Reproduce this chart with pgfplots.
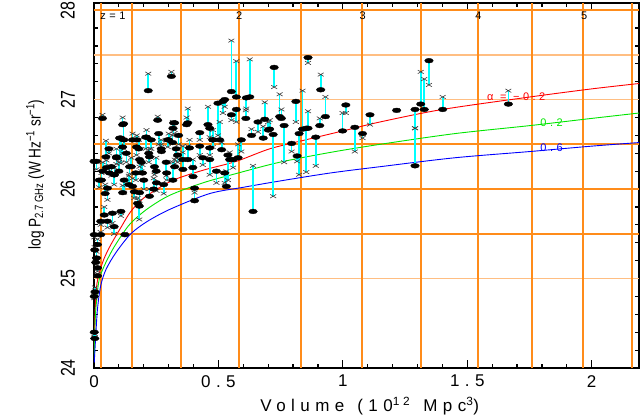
\documentclass[border=0pt]{standalone}
\usepackage{fontspec}
\setmainfont{Liberation Sans}
\newfontfamily\wide{Liberation Sans}[LetterSpace=32]
\usepackage{pgfplots}
\usepackage{pgfplotstable}
\pgfplotsset{compat=1.18}
\usepackage{graphicx}
\definecolor{gorange}{RGB}{255,140,26}
\definecolor{gpeach}{RGB}{255,190,130}
\definecolor{crossgray}{RGB}{60,60,60}
\definecolor{cyn}{RGB}{0,255,255}
\definecolor{gr}{RGB}{0,230,0}

\pgfplotstableread{
x yd yc
1.346 27.435 27.164
1.313 26.95 27.31
1.327 26.89 27.23
1.401 26.89 27.03
1.290 26.89 26.68
1.290 26.26 26.68
1.216 26.88 26.88
1.665 26.95 27.10
0.860 27.47 27.41
0.724 27.36 27.14
0.911 27.11 27.28
0.930 26.81 27.03
0.746 26.81 27.06
0.838 26.67 27.10
0.811 26.98 26.75
0.860 26.68 26.87
1.012 26.94 26.85
0.999 26.65 26.85
1.109 26.83 26.72
1.048 26.69 26.42
1.079 26.62 26.57
0.891 26.58 26.26
0.720 26.61 25.92
0.764 26.71 26.30
0.824 26.62 26.16
0.853 26.68 26.19
0.816 26.37 26.31
0.794 26.51 26.42
0.907 26.71 26.79
0.753 26.79 26.89
0.706 26.67 26.77
0.552 27.09 27.66
0.572 27.03 27.43
0.626 27.03 27.45
0.311 27.26 27.31
0.518 26.98 26.85
0.498 26.96 26.60
0.572 26.89 26.75
0.612 27.02 26.90
0.377 26.74 26.90
0.458 26.72 26.92
0.686 26.78 26.97
0.610 26.79 26.88
0.659 26.75 26.64
0.505 26.55 26.75
0.317 26.68 26.75
0.425 26.63 26.55
0.478 26.55 26.66
0.552 26.83 26.77
0.633 26.60 26.67
0.680 26.57 26.70
0.700 26.66 26.75
0.538 26.38 26.10
0.559 26.33 26.24
0.579 26.35 26.50
0.592 26.55 26.42
0.639 25.75 26.26
0.465 26.33 26.16
0.525 26.18 26.07
0.532 26.03 26.20
0.404 26.01 25.88
0.398 26.14 26.25
0.492 26.20 26.07
0.317 26.10 26.30
0.377 26.33 26.48
0.425 26.48 26.38
0.357 26.22 26.48
0.218 27.10 27.29
0.034 26.79 26.83
0.256 26.77 26.81
0.119 26.73 26.55
0.048 26.36 26.54
0.000 26.31 26.31
0.108 26.57 26.29
0.172 26.55 26.60
0.208 26.58 26.45
0.320 26.74 26.62
0.404 25.87 25.96
0.001 24.40 24.34
0.003 24.33 24.38
0.001 24.80 24.78
0.004 24.85 24.90
0.014 25.03 25.05
0.007 25.18 25.22
0.003 25.32 25.35
0.014 25.38 25.44
0.001 25.49 25.46
0.027 25.49 25.52
0.124 25.49 25.50
0.054 25.64 25.57
0.081 25.58 25.50
0.074 25.73 25.62
0.108 25.75 25.70
0.175 25.84 25.90
0.182 25.81 25.66
0.162 25.97 25.90
0.054 26.01 25.88
0.021 26.10 26.02
0.081 26.16 26.05
0.168 26.18 26.10
0.121 26.10 25.96
0.041 25.71 25.80
0.027 25.64 25.60
0.010 25.23 25.30
0.014 25.12 25.08
0.060 26.45 26.40
0.090 26.35 26.45
0.130 26.40 26.30
0.150 26.25 26.35
0.190 26.30 26.20
0.220 26.40 26.30
0.250 26.20 26.35
0.270 26.45 26.55
0.290 26.30 26.15
0.330 26.45 26.35
0.100 26.20 26.30
0.140 26.05 26.15
0.200 26.10 26.00
0.240 26.00 26.12
0.280 26.05 25.95
0.070 26.25 26.15
0.035 26.20 26.30
0.045 25.95 26.05
0.230 26.55 26.45
0.260 26.62 26.50
0.120 26.55 26.45
0.180 26.45 26.55
0.300 26.55 26.62
0.340 26.60 26.50
0.115 26.72 26.80
0.103 26.57 26.33
0.155 26.55 26.62
0.211 26.58 26.66
0.324 26.74 26.66
0.372 26.72 26.80
0.465 26.68 26.58
0.525 27.00 26.92
0.050 26.24 26.32
0.010 26.31 26.22
0.082 26.16 26.24
0.115 26.47 26.40
0.171 26.47 26.38
0.223 26.36 26.45
0.243 26.25 26.16
0.271 26.42 26.50
0.296 26.55 26.47
0.316 26.52 26.60
0.336 26.38 26.30
0.356 26.33 26.41
0.384 26.46 26.55
0.397 26.24 26.33
0.437 26.35 26.27
0.465 26.46 26.38
0.477 26.55 26.47
0.513 26.44 26.52
0.545 26.33 26.41
0.183 26.33 26.25
0.195 26.18 26.27
0.143 26.25 26.17
0.090 26.36 26.28
0.062 26.18 26.26
0.030 26.10 26.18
0.155 26.03 26.12
0.251 26.07 25.98
0.292 26.18 26.10
0.324 26.25 26.33
0.223 25.92 26.00
0.183 25.96 25.87
0.115 25.96 26.04
}\pts

\begin{document}
\begin{tikzpicture}
\begin{axis}[
  scale only axis, width=545bp, height=365bp,
  xmin=0, xmax=2.19, ymin=24, ymax=28.08,
  clip=false,
  axis line style={line width=1.5bp},
  tick style={black, line width=1.2bp},
  tick align=inside,
  major tick length=8bp, minor tick length=4bp,
  xtick={0,0.5,1,1.5,2}, ytick={24,25,26,27,28},
  minor x tick num=4, minor y tick num=4,
  /pgf/number format/assume math mode=true,
  xticklabel style={font=\wide\fontsize{17bp}{20bp}\selectfont, inner sep=0pt, anchor=north, yshift=-7bp},
  yticklabel={\scalebox{0.8}[1]{\pgfmathprintnumber{\tick}}},
  yticklabel style={font=\fontsize{20bp}{22bp}\selectfont, rotate=90, anchor=south, inner sep=0pt},
  yticklabel shift=19bp,
  every axis x label/.style={at={(axis description cs:0.506,0)}, anchor=north, yshift=-29bp, inner sep=0pt, font=\wide\fontsize{17bp}{20bp}\selectfont},
  every axis y label/.style={at={(axis description cs:-0.108,0.53)}, rotate=90, anchor=center, inner sep=0pt, font=\fontsize{17bp}{20bp}\selectfont},
  xlabel={Volume \,(10\textsuperscript{12} \,Mpc\textsuperscript{3})},
  ylabel={\scalebox{0.8}[1]{log P\textsubscript{2.7 GHz} (W Hz\textsuperscript{−1} sr\textsuperscript{−1})}},
]
% horizontal grid lines
\draw[gorange, line width=1.7bp] (axis cs:0,25.5) -- (axis cs:2.19,25.5);
\draw[gorange, line width=1.7bp] (axis cs:0,26) -- (axis cs:2.19,26);
\draw[gorange, line width=1.7bp] (axis cs:0,26.5) -- (axis cs:2.19,26.5);
\draw[gorange, line width=1.7bp] (axis cs:0,28) -- (axis cs:2.19,28);
\draw[gpeach, line width=1.7bp] (axis cs:0,25) -- (axis cs:2.19,25);
\draw[gpeach, line width=1.7bp] (axis cs:0,27) -- (axis cs:2.19,27);
\draw[gpeach, line width=1.7bp] (axis cs:0,27.5) -- (axis cs:2.19,27.5);
% vertical grid lines (redshift markers)
\draw[gorange, line width=2bp] (axis cs:0.03,24) -- (axis cs:0.03,28.08);
\draw[gorange, line width=2bp] (axis cs:0.151,24) -- (axis cs:0.151,28.08);
\draw[gorange, line width=2bp] (axis cs:0.348,24) -- (axis cs:0.348,28.08);
\draw[gorange, line width=2bp] (axis cs:0.581,24) -- (axis cs:0.581,28.08);
\draw[gorange, line width=2bp] (axis cs:0.831,24) -- (axis cs:0.831,28.08);
\draw[gorange, line width=2bp] (axis cs:1.076,24) -- (axis cs:1.076,28.08);
\draw[gorange, line width=2bp] (axis cs:1.314,24) -- (axis cs:1.314,28.08);
\draw[gorange, line width=2bp] (axis cs:1.543,24) -- (axis cs:1.543,28.08);
\draw[gorange, line width=2bp] (axis cs:1.761,24) -- (axis cs:1.761,28.08);
\draw[gorange, line width=2bp] (axis cs:1.966,24) -- (axis cs:1.966,28.08);
\draw[gorange, line width=2bp] (axis cs:2.163,24) -- (axis cs:2.163,28.08);
% curves
\addplot[red, line width=0.9bp, smooth] coordinates {(0.001,24.2) (0.004,24.6) (0.01,24.9) (0.02,25.05) (0.04,25.22) (0.068,25.38) (0.108,25.57) (0.148,25.75) (0.2,25.9) (0.296,26.07) (0.357,26.14) (0.45,26.22) (0.572,26.31) (0.706,26.45) (0.85,26.55) (1.0,26.65) (1.149,26.75) (1.4,26.89) (1.753,27.03) (2.0,27.12) (2.19,27.18)};
\addplot[gr, line width=0.9bp, smooth] coordinates {(0.001,24.1) (0.005,24.55) (0.012,24.8) (0.021,24.99) (0.041,25.14) (0.074,25.32) (0.108,25.47) (0.148,25.62) (0.215,25.78) (0.304,25.93) (0.438,26.07) (0.58,26.18) (0.746,26.3) (0.95,26.41) (1.149,26.5) (1.45,26.62) (1.753,26.71) (2.0,26.79) (2.19,26.85)};
\addplot[blue, line width=0.9bp, smooth] coordinates {(0.001,24.06) (0.007,24.36) (0.014,24.66) (0.027,24.92) (0.048,25.1) (0.088,25.29) (0.148,25.5) (0.215,25.64) (0.31,25.78) (0.465,25.95) (0.6,26.02) (0.746,26.09) (0.95,26.18) (1.149,26.25) (1.45,26.35) (1.753,26.42) (2.0,26.48) (2.19,26.52)};
% cyan connectors
\addplot[draw=none, mark=none, error bars/.cd, y dir=both, y explicit, error mark=none, error bar style={cyn, line width=1.7bp}]
  table[x=x, y=yd, y error plus expr={max(\thisrow{yc}-\thisrow{yd},0)}, y error minus expr={max(\thisrow{yd}-\thisrow{yc},0)}] {\pts};
% crosses
\addplot[only marks, mark=x, mark size=4.2bp, mark options={yscale=0.6, draw=crossgray, line width=0.6bp}] table[x=x, y=yc] {\pts};
% dots
\addplot[only marks, mark=*, mark size=4.3bp, mark options={yscale=0.55, fill=black, draw=black}] table[x=x, y=yd] {\pts};
% labels
\node[anchor=west, red, font=\wide\fontsize{11bp}{12bp}\selectfont, inner sep=0pt] at (axis cs:1.579,27.03) {α = −0.2};
\node[anchor=west, gr, font=\wide\fontsize{11bp}{12bp}\selectfont, inner sep=0pt] at (axis cs:1.793,26.74) {0.2};
\node[anchor=west, blue, font=\wide\fontsize{11bp}{12bp}\selectfont, inner sep=0pt] at (axis cs:1.793,26.46) {0.6};
\node[anchor=west, font=\wide\fontsize{11bp}{12bp}\selectfont, inner sep=0pt] at (axis cs:0.025,27.94) {z=1};
\node[font=\wide\fontsize{11bp}{12bp}\selectfont, inner sep=0pt] at (axis cs:0.583,27.94) {2};
\node[font=\wide\fontsize{11bp}{12bp}\selectfont, inner sep=0pt] at (axis cs:1.08,27.94) {3};
\node[font=\wide\fontsize{11bp}{12bp}\selectfont, inner sep=0pt] at (axis cs:1.545,27.94) {4};
\node[font=\wide\fontsize{11bp}{12bp}\selectfont, inner sep=0pt] at (axis cs:1.97,27.94) {5};
\end{axis}
\pgfresetboundingbox
\path (-94bp,-47bp) rectangle (549bp,368bp);
\end{tikzpicture}
\end{document}
